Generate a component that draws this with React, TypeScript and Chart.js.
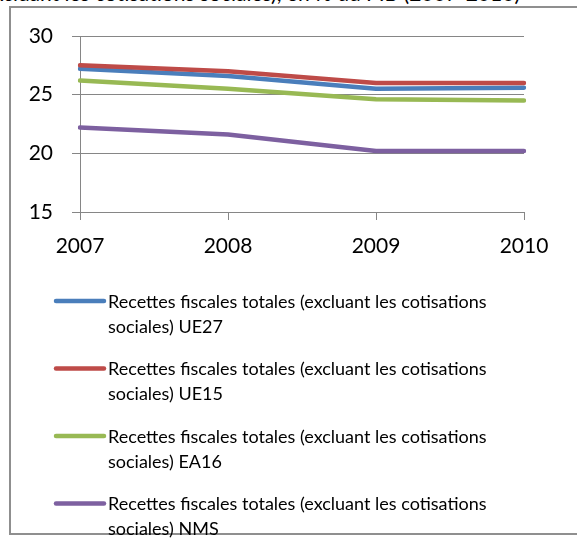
import React, { useEffect, useRef } from "react";
import { Chart, registerables } from "chart.js";

Chart.register(...registerables);

const years = ["2007", "2008", "2009", "2010"];
const ue27 = [27.2, 26.6, 25.5, 25.6];
const ue15 = [27.5, 27.0, 26.0, 26.0];
const ea16 = [26.2, 25.5, 24.6, 24.5];
const nms = [22.2, 21.6, 20.2, 20.2];
const seriesLabels = [
  "Recettes fiscales totales (excluant les cotisations sociales) UE27",
  "Recettes fiscales totales (excluant les cotisations sociales) UE15",
  "Recettes fiscales totales (excluant les cotisations sociales) EA16",
  "Recettes fiscales totales (excluant les cotisations sociales) NMS",
];
const seriesColors = ["#4A7EBB", "#BE4B48", "#98B954", "#7D60A0"];
const titleText = "(excluant les cotisations sociales), en % du PIB (2007-2010)";

const FONT = "Lato, 'DejaVu Sans', sans-serif";
const LEG_FONT_SIZE = 18;

function wrapText(ctx: CanvasRenderingContext2D, text: string, maxWidth: number): string[] {
  const words = text.split(" ");
  const lines: string[] = [];
  let cur = "";
  for (const w of words) {
    const test = cur ? cur + " " + w : w;
    if (ctx.measureText(test).width > maxWidth && cur) {
      lines.push(cur);
      cur = w;
    } else {
      cur = test;
    }
  }
  if (cur) lines.push(cur);
  return lines;
}

const wrapLegend = {
  id: "wrapLegend",
  afterDraw(chart: any) {
    const ctx: CanvasRenderingContext2D = chart.ctx;
    const xScale = chart.scales.x;
    const top = xScale.bottom + 39;
    const step = 67.5;
    const lineGap = 25;
    ctx.save();
    ctx.font = `${LEG_FONT_SIZE}px ${FONT}`;
    ctx.textBaseline = "middle";
    ctx.textAlign = "left";
    chart.data.datasets.forEach((ds: any, i: number) => {
      const y = top + i * step;
      ctx.strokeStyle = ds.borderColor;
      ctx.lineWidth = 4.5;
      ctx.lineCap = "round";
      ctx.beginPath();
      ctx.moveTo(56, y);
      ctx.lineTo(104, y);
      ctx.stroke();
      ctx.fillStyle = "#000";
      const lines = wrapText(ctx, ds.label, 420);
      lines.forEach((ln, k) => ctx.fillText(ln, 108, y + 1 + k * lineGap));
    });
    ctx.restore();
  },
};

export default function App() {
  const ref = useRef<HTMLCanvasElement>(null);
  useEffect(() => {
    if (!ref.current) return;
    const data = [ue27, ue15, ea16, nms];
    const chart = new Chart(ref.current, {
      type: "line",
      data: {
        labels: years,
        datasets: data.map((d, i) => ({
          label: seriesLabels[i],
          data: d,
          borderColor: seriesColors[i],
          backgroundColor: seriesColors[i],
          borderWidth: 4.5,
          pointRadius: 0,
          borderCapStyle: "round" as const,
          borderJoinStyle: "round" as const,
          tension: 0,
          order: data.length - i,
        })),
      },
      options: {
        responsive: false,
        animation: false,
        layout: { padding: { left: 10, right: 53, top: 36, bottom: 276 } },
        plugins: {
          legend: { display: false },
          tooltip: { enabled: false },
          title: { display: false },
        },
        scales: {
          x: {
            offset: false,
            grid: {
              drawOnChartArea: false,
              drawTicks: true,
              tickLength: 8,
              color: "#868686",
              lineWidth: 1,
            },
            border: { display: true, color: "#868686", width: 1 },
            ticks: {
              color: "#000",
              font: { family: FONT, size: 21 },
              padding: 14,
              maxRotation: 0,
            },
            afterFit: (s: any) => {
              s.height = 50;
            },
          },
          y: {
            min: 15,
            max: 30,
            ticks: {
              stepSize: 5,
              color: "#000",
              font: { family: FONT, size: 21 },
              padding: 19,
            },
            grid: {
              color: "#868686",
              lineWidth: 1,
              tickLength: 8,
              drawTicks: true,
            },
            border: { display: true, color: "#868686", width: 1 },
            afterFit: (s: any) => {
              s.width = 70;
            },
          },
        },
      },
      plugins: [wrapLegend],
    });
    return () => chart.destroy();
  }, []);

  return (
    <div
      style={{
        position: "fixed",
        left: 0,
        top: 0,
        width: 577,
        height: 538,
        overflow: "hidden",
        background: "#fff",
      }}
    >
      <div
        style={{
          position: "absolute",
          right: 57,
          top: -18,
          fontFamily: FONT,
          fontSize: 21,
          lineHeight: "21px",
          whiteSpace: "nowrap",
          color: "#000",
        }}
      >
        {titleText}
      </div>
      <div
        style={{
          position: "absolute",
          left: 9,
          top: 6,
          width: 620,
          height: 529,
          border: "2px solid #8f8f8f",
          boxSizing: "border-box",
        }}
      />
      <canvas
        ref={ref}
        width={577}
        height={538}
        style={{ position: "absolute", left: 0, top: 0, width: 577, height: 538 }}
      />
    </div>
  );
}
